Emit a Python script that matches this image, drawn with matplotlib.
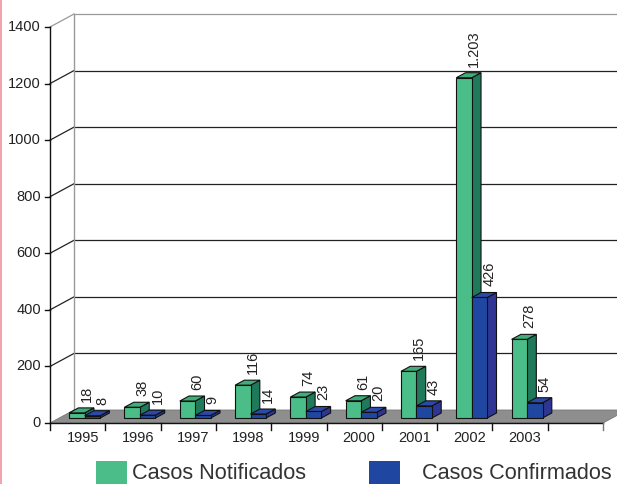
import numpy as np
import matplotlib
matplotlib.use("Agg")
import matplotlib.pyplot as plt
from matplotlib.patches import Polygon, Rectangle
from matplotlib.transforms import IdentityTransform
from matplotlib import font_manager

# ---------------- data ----------------
years = ['1995', '1996', '1997', '1998', '1999', '2000', '2001', '2002', '2003']
notificados = [18, 38, 60, 116, 74, 61, 165, 1203, 278]
confirmados = [8, 10, 9, 14, 23, 20, 43, 426, 54]
yticks = [0, 200, 400, 600, 800, 1000, 1200, 1400]
series_names = ['Casos Notificados', 'Casos Confirmados']

# ---------------- style ----------------
names = {f.name for f in font_manager.fontManager.ttflist}
NARROW = 'Liberation Sans Narrow' if 'Liberation Sans Narrow' in names else 'Liberation Sans'
SMALL = 11.5 if NARROW == 'Liberation Sans Narrow' else 10.5
REG = 'Liberation Sans'

GREEN = dict(front='#4bbd88', side='#1f7a5b', top='#3eae7b')
BLUE = dict(front='#1f47a1', side='#2f3592', top='#2a49a8')
FLOOR = '#8e8e8e'
EDGE = '#111111'
TXT = '#222222'

W, H = 617, 484
fig = plt.figure(figsize=(W / 100, H / 100), dpi=100)
fig.patch.set_facecolor('white')
ax = fig.add_axes([50 / W, (H - 423) / H, 553 / W, 396 / H])
ax.set_xlim(0, 10)
ax.set_ylim(0, 1400)
ax.axis('off')

DX, DY = 24.0, 13.0   # depth vector in pixels
D0, D1 = 0.385, 0.77  # bar depth range


def P(x, v, d=0.0):
    px, py = ax.transData.transform((x, v))
    return (px + d * DX, py + d * DY)


def poly(pts, fc, ec=EDGE, lw=0.8, z=2):
    ax.add_patch(Polygon(pts, closed=True, facecolor=fc, edgecolor=ec, lw=lw,
                         transform=IdentityTransform(), clip_on=False, zorder=z,
                         joinstyle='miter'))


def line(pts, color, lw=0.9, z=1):
    pts = np.array(pts)
    ax.add_line(plt.Line2D(pts[:, 0], pts[:, 1], color=color, lw=lw,
                           transform=IdentityTransform(), clip_on=False, zorder=z))


# left pink border
fig.add_artist(Rectangle((0, 0), 2 / W, 1, transform=fig.transFigure,
                         facecolor='#f2a3ab', edgecolor='none'))

# back wall gridlines + diagonal connectors
right_px = W + 5
for v in yticks[1:]:
    col = '#999999' if v == yticks[-1] else '#222222'
    a = P(0, v, 0)
    b = P(0, v, 1)
    line([a, b], col, lw=0.9)
    line([b, (right_px, b[1])], col, lw=0.9)
# back wall left edge
line([P(0, 0, 1), P(0, yticks[-1], 1)], '#999999', lw=1.0)

# floor
poly([P(0, 0, 0), P(10, 0, 0), P(10, 0, 1), P(0, 0, 1)], FLOOR, ec='#777777', lw=0.6, z=1)

# y axis
line([P(0, 0, 0), P(0, yticks[-1], 0)], '#111111', lw=1.0, z=3)
for v in yticks:
    a = P(0, v, 0)
    line([(a[0] - 5, a[1]), a], '#111111', lw=1.0, z=3)
    ax.text(a[0] - 9, a[1], str(v), transform=IdentityTransform(), ha='right',
            va='center', fontsize=SMALL, family=[NARROW, 'DejaVu Sans'], color=TXT)

# x axis
line([P(0, 0, 0), P(10, 0, 0)], '#111111', lw=1.0, z=3)
for k in range(11):
    a = P(k, 0, 0)
    line([a, (a[0], a[1] - 7)], '#777777' if k == 10 else '#111111', lw=1.0, z=3)
for k, yr in enumerate(years):
    a = P(k + 0.5, 0, 0)
    ax.text(a[0] + 5, a[1] - 8, yr, transform=IdentityTransform(), ha='center',
            va='top', fontsize=SMALL, family=[NARROW, 'DejaVu Sans'], color=TXT)


def bar3d(x0, x1, v, c):
    fbl, fbr = P(x0, 0, D0), P(x1, 0, D0)
    ftl, ftr = P(x0, v, D0), P(x1, v, D0)
    bbr, btl, btr = P(x1, 0, D1), P(x0, v, D1), P(x1, v, D1)
    poly([fbr, bbr, btr, ftr], c['side'], z=4)
    poly([ftl, ftr, btr, btl], c['top'], z=4)
    poly([fbl, fbr, ftr, ftl], c['front'], z=4)


def fmt(v):
    return f"{v:,}".replace(',', '.')


for k in range(len(years)):
    for x0, x1, vals, c in [(0.18, 0.46, notificados, GREEN), (0.46, 0.74, confirmados, BLUE)]:
        v = vals[k]
        bar3d(k + x0, k + x1, v, c)
        fr = P(k + x1, v, D0)
        bt = P(k + x1, v, D1)
        ax.text(fr[0] + 2, bt[1] + 6, fmt(v), transform=IdentityTransform(), rotation=90,
                ha='center', va='bottom', fontsize=SMALL,
                family=[NARROW, 'DejaVu Sans'], color=TXT, zorder=6)

# legend
for (x0, x_txt), name, c in zip([(96, 132), (369, 422)], series_names, [GREEN, BLUE]):
    fig.add_artist(Rectangle((x0 / W, -0.01), 31 / W, (H - 461) / H + 0.01,
                             transform=fig.transFigure, facecolor=c['front'],
                             edgecolor='none'))
    fig.text(x_txt / W, 5.0 / H, name, ha='left', va='baseline', fontsize=15.6,
             family=[REG, 'DejaVu Sans'], color='#333333')

fig.savefig('out.png', dpi=100, facecolor='white')
